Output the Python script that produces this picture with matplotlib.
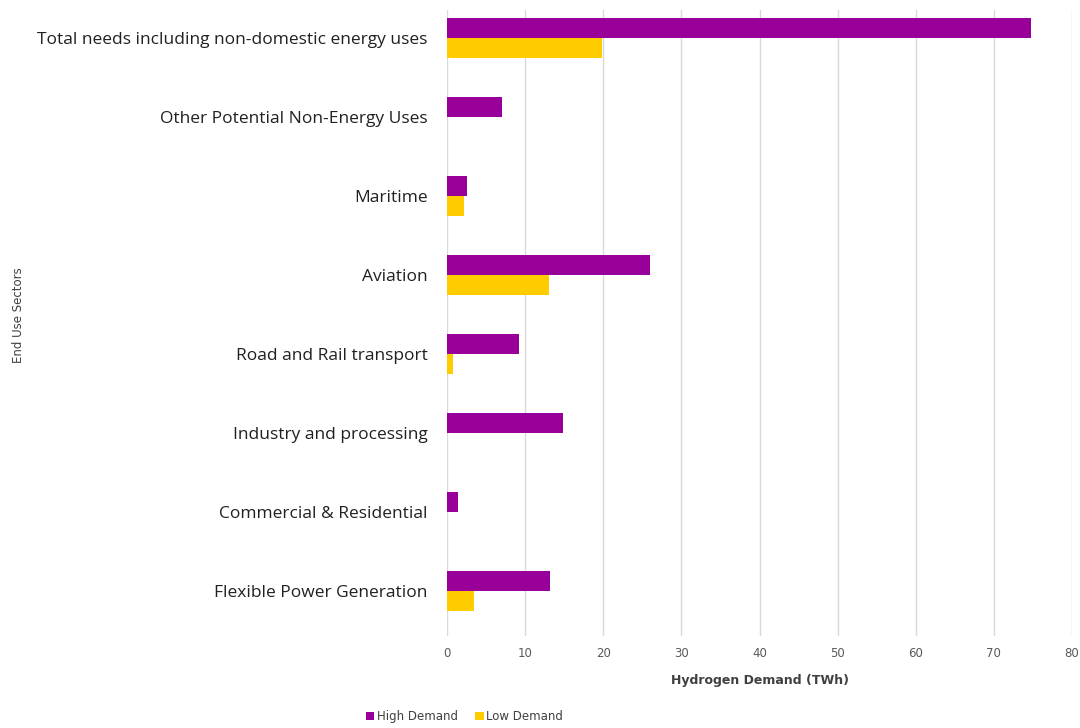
import numpy as np
import matplotlib.pyplot as plt

# Data (bottom to top)
sectors = ["Flexible Power Generation", "Commercial & Residential",
           "Industry and processing", "Road and Rail transport", "Aviation",
           "Maritime", "Other Potential Non-Energy Uses",
           "Total needs including non-domestic energy uses"]
high_demand = [13.2, 1.4, 14.8, 9.2, 26.0, 2.5, 7.0, 74.8]
low_demand = [3.5, 0.0, 0.0, 0.8, 13.0, 2.2, 0.0, 19.8]

purple = "#990099"
yellow = "#FFCC00"

fig = plt.figure(figsize=(10.8, 7.28), dpi=100)
ax = fig.add_axes([0.414, 0.126, 0.5786, 0.86])

y = np.arange(len(sectors))
h = 0.25
ax.barh(y + h / 2, high_demand, height=h, color=purple, label="High Demand", zorder=3)
ax.barh(y - h / 2, low_demand, height=h, color=yellow, label="Low Demand", zorder=3)

ax.set_xlim(0, 80)
ax.set_ylim(-0.57, 7.35)
ax.set_xticks(range(0, 81, 10))
ax.set_yticks(y)
ax.set_yticklabels(sectors, fontsize=12.5, color="#202020", family="Open Sans")
ax.tick_params(axis="y", length=0, pad=14)
ax.tick_params(axis="x", length=0, pad=8, labelsize=8.5, labelcolor="#595959")
ax.grid(axis="x", color="#d9d9d9", linewidth=1, zorder=0)
for s in ax.spines.values():
    s.set_visible(False)

ax.set_xlabel("Hydrogen Demand (TWh)", fontsize=9, fontweight="bold",
              color="#404040", labelpad=10)
fig.text(0.017, 0.567, "End Use Sectors", rotation=90, fontsize=8.5,
         color="#404040", ha="center", va="center")

fig.legend(loc="lower center", bbox_to_anchor=(0.43, -0.008), ncol=2, frameon=False,
           fontsize=8.5, handlelength=0.7, handleheight=0.7, handletextpad=0.2,
           columnspacing=1.5, labelcolor="#404040")

plt.savefig("out.png", dpi=100)
